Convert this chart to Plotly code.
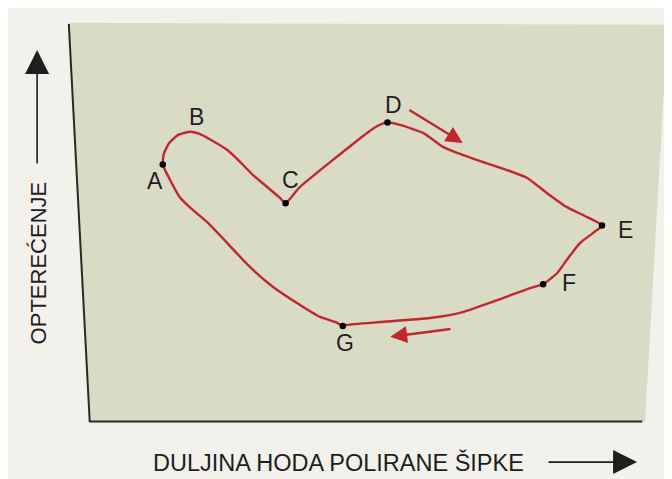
import plotly.graph_objects as go

# dynamometer card, schematic (stroke position vs load, arbitrary units 0-100)
stroke = [14.8, 15.0, 15.9, 17.5, 19.6, 21.2, 23.1, 26.2, 28.5, 30.7, 33.2, 35.5,
          36.5, 39.0, 50.9, 52.8, 54.5, 56.7, 60.8, 64.3, 66.8, 71.4, 75.6,
          79.2, 82.7, 86.2, 89.8, 92.4, 90.8, 88.5, 86.2, 84.5, 82.0, 79.7, 73.9,
          67.8, 62.0, 53.2, 47.4, 46.6, 45.6, 42.6, 38.5, 34.3, 30.2, 26.2, 22.6,
          20.1, 17.8, 16.1, 14.8]
load = [64.3, 67.0, 69.6, 71.7, 72.5, 72.0, 70.6, 67.9, 64.9, 61.7, 58.7, 55.9,
        54.6, 58.6, 72.2, 74.0, 74.8, 74.2, 72.2, 68.7, 67.2, 64.9, 62.9,
        60.9, 57.1, 53.6, 51.1, 49.0, 47.1, 44.6, 40.4, 37.1, 34.3, 33.3, 30.3,
        27.3, 25.8, 24.8, 24.1, 23.8, 24.6, 26.1, 29.6, 33.6, 38.6, 44.6, 49.9,
        52.9, 56.1, 60.4, 64.3]

# marked points
pt_names = ["A", "C", "D", "E", "F", "G"]
pt_x = [14.8, 36.5, 54.5, 92.4, 82.0, 46.6]
pt_y = [64.3, 54.6, 74.8, 49.0, 34.3, 23.8]

# letter labels (B has no dot)
lab_names = ["A", "B", "C", "D", "E", "F", "G"]
lab_x = [13.4, 20.7, 37.3, 55.5, 96.5, 86.6, 47.0]
lab_y = [60.2, 76.2, 60.4, 79.2, 47.9, 34.6, 19.6]

# direction arrows (tail -> head)
arr_tail = [(58.1, 78.2), (65.9, 23.1)]
arr_head = [(67.8, 69.7), (55.0, 21.1)]

x_title = "DULJINA HODA POLIRANE ŠIPKE"
y_title = "OPTEREĆENJE"

RED = "#c1272d"
INK = "#1e1e1e"
FONT = "Liberation Sans, Arial, sans-serif"

fig = go.Figure()
fig.add_trace(go.Scatter(x=stroke, y=load, mode="lines",
                         line=dict(color=RED, width=2.4, shape="spline", smoothing=0.5),
                         hoverinfo="skip"))
fig.add_trace(go.Scatter(x=pt_x, y=pt_y, mode="markers", text=pt_names,
                         marker=dict(color="black", size=6.5)))

for n, x, y in zip(lab_names, lab_x, lab_y):
    fig.add_annotation(x=x, y=y, text=n, showarrow=False,
                       font=dict(size=23, color=INK, family=FONT))

for (tx, ty), (hx, hy) in zip(arr_tail, arr_head):
    fig.add_annotation(x=hx, y=hy, ax=tx, ay=ty, xref="x", yref="y", axref="x", ayref="y",
                       text="", showarrow=True, arrowhead=2, arrowsize=1.4,
                       arrowwidth=2.4, arrowcolor=RED)

# axis titles with their arrows (outside the plot area -> paper coords)
fig.add_annotation(x=0.458, y=-0.103, xref="paper", yref="paper", text=x_title,
                   xanchor="center", yanchor="middle",
                   showarrow=False, font=dict(size=23.5, color=INK, family=FONT))
fig.add_annotation(x=0.986, y=-0.103, xref="paper", yref="paper", ax=-90, ay=0,
                   text="", showarrow=True, arrowhead=2, arrowsize=3,
                   arrowwidth=1.6, arrowcolor=INK)
fig.add_annotation(x=-0.07, y=0.396, xref="paper", yref="paper", text=y_title,
                   xanchor="center", yanchor="middle", textangle=-90,
                   showarrow=False, font=dict(size=22, color=INK, family=FONT))
fig.add_annotation(x=-0.074, y=0.93, xref="paper", yref="paper", ax=0, ay=115,
                   text="", showarrow=True, arrowhead=2, arrowsize=3,
                   arrowwidth=1.6, arrowcolor=INK)

# greenish card area (photographed slightly askew) and its two axis lines
fig.add_shape(type="path", xref="paper", yref="paper", layer="below",
              path="M -0.018 0.998 L 1.04 0.993 L 1.0 -0.003 L 0.019 -0.003 Z",
              fillcolor="#d9dbc5", line=dict(width=0))
fig.add_shape(type="line", xref="paper", yref="paper", x0=-0.018, y0=0.995, x1=0.019, y1=-0.003,
              line=dict(color="#2a2a22", width=2))
fig.add_shape(type="line", xref="paper", yref="paper", x0=0.019, y0=-0.001, x1=0.995, y1=-0.001,
              line=dict(color="#2a2a22", width=2))

fig.update_xaxes(range=[0, 100], visible=False)
fig.update_yaxes(range=[0, 100], visible=False)
# the page body adds an 8px offset, so the margins are shifted by that
fig.update_layout(width=672, height=479, margin=dict(l=71, r=35, t=14, b=66),
                  paper_bgcolor="#f2f1ec", plot_bgcolor="rgba(0,0,0,0)",
                  showlegend=False)
fig.write_html("out.html")
